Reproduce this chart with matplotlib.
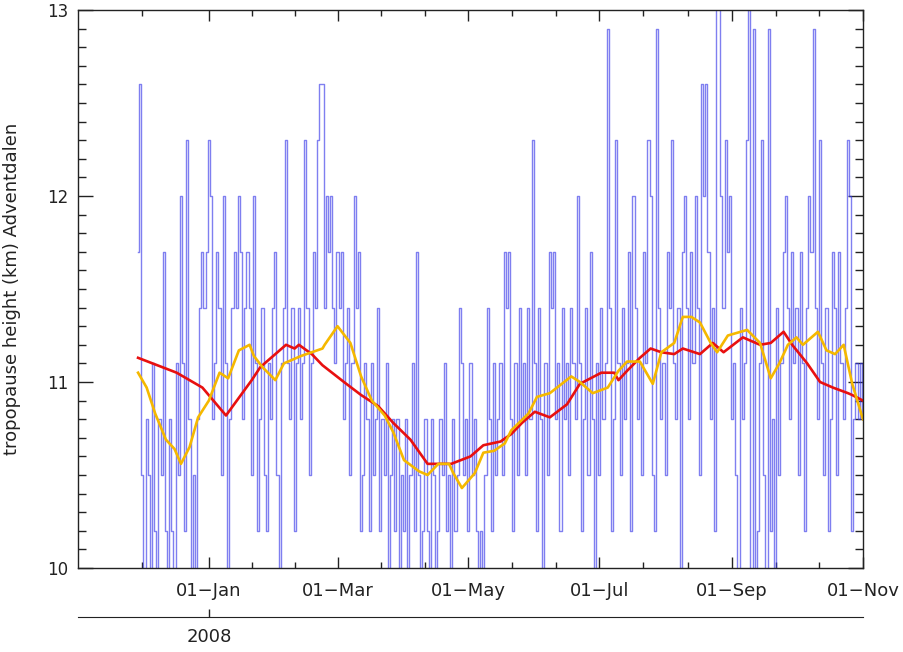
import numpy as np
import matplotlib
matplotlib.use('Agg')
import matplotlib.pyplot as plt
import matplotlib.dates as mdates

# daily tropopause height (km) over Adventdalen, starting 2007-11-29
blue_start = '2007-11-29'
blue_vals = [
    11.7, 12.6, 10.5, 9.9, 10.8, 10.5, 9.9, 11.1, 10.2, 9.6, 10.8, 10.5, 11.7, 10.2, 9.9,
    10.8, 10.2, 9.9, 11.1, 10.5, 12.0, 11.1, 10.2, 12.3, 10.8, 9.9, 10.5, 9.6, 10.8, 11.4,
    11.7, 11.4, 11.7, 12.3, 12.0, 10.8, 11.1, 11.7, 11.4, 10.5, 12.0, 11.1, 9.9, 10.8, 11.4,
    11.7, 11.4, 12.0, 11.7, 10.8, 11.4, 11.7, 11.4, 10.5, 12.0, 11.1, 10.2, 10.8, 11.4, 10.5,
    10.2, 11.1, 10.8, 11.4, 11.7, 10.5, 9.9, 11.1, 11.4, 12.3, 11.1, 10.8, 11.4, 10.2, 11.1,
    11.4, 10.8, 11.1, 12.3, 11.4, 10.5, 11.1, 11.7, 11.4, 12.3, 12.6, 12.6, 11.4, 12.0, 11.7,
    12.0, 11.4, 11.1, 11.7, 11.4, 11.7, 10.8, 11.1, 11.4, 10.5, 11.1, 12.0, 11.4, 11.7, 10.2,
    10.5, 11.1, 10.8, 10.2, 11.1, 10.5, 10.8, 11.4, 10.2, 10.8, 10.5, 11.1, 9.9, 10.5, 10.8,
    10.2, 10.8, 9.9, 10.5, 10.2, 10.8, 9.9, 10.5, 11.1, 10.2, 11.7, 10.5, 9.9, 10.2, 10.8,
    10.2, 9.9, 10.8, 10.5, 9.6, 10.2, 10.8, 10.5, 11.1, 10.2, 10.5, 9.9, 10.8, 10.2, 10.5,
    11.4, 11.1, 10.5, 10.8, 10.2, 11.1, 10.5, 10.8, 10.2, 9.9, 10.2, 9.9, 10.5, 11.4, 10.8,
    10.2, 11.1, 10.5, 10.8, 11.1, 10.5, 11.7, 11.4, 11.7, 10.8, 10.2, 11.1, 10.5, 11.4, 10.8,
    11.1, 10.5, 11.4, 10.8, 12.3, 11.1, 10.2, 11.4, 10.8, 9.9, 11.1, 10.5, 11.7, 11.4, 11.7,
    10.8, 11.1, 10.2, 11.4, 10.8, 11.1, 10.5, 11.4, 11.1, 10.8, 12.0, 11.1, 10.2, 10.8, 11.4,
    10.5, 11.7, 10.8, 9.9, 11.1, 10.5, 11.4, 10.8, 11.1, 12.9, 11.4, 10.2, 10.8, 12.3, 11.1,
    10.5, 11.4, 10.8, 11.1, 11.7, 10.2, 12.0, 11.4, 10.8, 11.1, 10.5, 11.7, 11.1, 12.3, 12.0,
    10.5, 10.2, 12.9, 11.4, 10.8, 11.1, 10.5, 11.7, 11.4, 12.3, 11.1, 10.8, 11.4, 9.9, 11.7,
    12.0, 11.4, 10.8, 11.7, 11.1, 12.0, 11.4, 10.5, 12.6, 12.0, 12.6, 11.7, 10.8, 11.4, 10.2,
    13.2, 13.2, 12.0, 11.4, 12.3, 11.7, 12.0, 10.8, 11.1, 10.5, 9.9, 11.4, 10.8, 11.1, 12.3,
    13.2, 9.9, 12.9, 9.6, 10.2, 11.1, 12.3, 10.5, 9.9, 12.9, 10.2, 10.8, 9.9, 11.4, 10.5,
    11.1, 11.7, 12.0, 11.4, 10.8, 11.7, 11.1, 11.4, 10.5, 11.7, 11.1, 10.2, 11.4, 12.0, 11.7,
    12.9, 11.4, 10.8, 12.3, 11.1, 10.5, 11.4, 10.2, 10.8, 11.7, 11.4, 10.5, 11.7, 11.1, 10.8,
    11.4, 12.3, 12.0, 10.2, 10.8, 11.1, 10.8, 11.1, 10.8,
]

# long running mean (red), days from 2008-01-01
red_days = [-33, -15, -3, 8, 20, 24, 36, 40, 42, 48, 53, 63, 71, 79, 86, 94, 102, 113,
            122, 128, 136, 141, 146, 152, 159, 167, 173, 183, 189, 191, 195, 201, 206,
            211, 217, 221, 229, 235, 240, 249, 257, 262, 268, 272, 279, 285, 291, 298,
            300, 305]
red_vals = [11.13, 11.05, 10.97, 10.82, 11.01, 11.08, 11.20, 11.18, 11.20, 11.15, 11.09,
            11.00, 10.93, 10.87, 10.78, 10.69, 10.56, 10.56, 10.60, 10.66, 10.68, 10.72,
            10.78, 10.84, 10.81, 10.88, 10.99, 11.05, 11.05, 11.01, 11.06, 11.13, 11.18,
            11.16, 11.15, 11.18, 11.15, 11.21, 11.16, 11.24, 11.20, 11.21, 11.27, 11.20,
            11.10, 11.00, 10.97, 10.94, 10.93, 10.90]

# short running mean (orange), days from 2008-01-01
orange_days = [-33, -29, -25, -20, -16, -13, -9, -5, 0, 5, 9, 14, 19, 21, 25, 31, 35, 43,
               53, 54, 60, 66, 71, 76, 82, 86, 91, 98, 102, 107, 112, 114, 118, 124, 128,
               133, 138, 141, 149, 153, 159, 169, 173, 179, 186, 191, 195, 201, 207, 211,
               217, 221, 225, 229, 234, 237, 242, 251, 257, 262, 266, 270, 274, 277, 284,
               288, 292, 296, 300, 305]
orange_vals = [11.05, 10.97, 10.83, 10.69, 10.64, 10.56, 10.65, 10.81, 10.90, 11.05, 11.02,
               11.17, 11.20, 11.14, 11.08, 11.01, 11.10, 11.14, 11.18, 11.20, 11.30, 11.21,
               11.03, 10.90, 10.82, 10.73, 10.58, 10.52, 10.50, 10.56, 10.56, 10.51, 10.43,
               10.51, 10.62, 10.63, 10.67, 10.74, 10.83, 10.92, 10.94, 11.03, 11.00, 10.94,
               10.97, 11.06, 11.11, 11.11, 10.99, 11.16, 11.21, 11.35, 11.35, 11.32, 11.21,
               11.16, 11.25, 11.28, 11.21, 11.02, 11.10, 11.20, 11.24, 11.20, 11.27, 11.17,
               11.15, 11.20, 10.99, 10.80]

major_dates = ['2008-01-01', '2008-03-01', '2008-05-01', '2008-07-01', '2008-09-01', '2008-11-01']
major_labels = ['01\u2212Jan', '01\u2212Mar', '01\u2212May', '01\u2212Jul', '01\u2212Sep', '01\u2212Nov']

base = np.datetime64('2008-01-01')
blue_x = np.datetime64(blue_start) + np.arange(len(blue_vals)).astype('timedelta64[D]')
red_x = base + np.array(red_days).astype('timedelta64[D]')
orange_x = base + np.array(orange_days).astype('timedelta64[D]')

txt = '#222222'
plt.rcParams['font.family'] = 'DejaVu Sans'

fig = plt.figure(figsize=(9.04, 6.52), dpi=100)
ax = fig.add_axes([0.0863, 0.1288, 0.8683, 0.8559])

ax.step(blue_x, blue_vals, where='mid', color='#3a3ae8', lw=1.0, alpha=0.65)
ax.plot(red_x, red_vals, color='#e81010', lw=1.9)
ax.plot(orange_x, orange_vals, color='#f5b800', lw=1.9)

ax.set_xlim(np.datetime64('2007-11-01'), np.datetime64('2008-11-01'))
ax.set_ylim(10, 13)

# x ticks: labelled every two months, minor thirds in between (IDL style)
major_num = mdates.date2num(np.array(major_dates, dtype='datetime64[D]'))
minor_num = [mdates.date2num(np.datetime64('2007-12-01'))]
for a, b in zip(major_num[:-1], major_num[1:]):
    minor_num += [a + (b - a) / 3, a + 2 * (b - a) / 3]
ax.set_xticks(major_num)
ax.set_xticklabels(major_labels)
ax.set_xticks(minor_num, minor=True)

ax.set_yticks([10, 11, 12, 13])
ax.set_yticks(np.arange(10, 13.01, 0.1), minor=True)
ax.set_yticklabels(['10', '11', '12', '13'])

ax.tick_params(axis='x', which='both', direction='in', top=True, colors=txt, labelsize=13, pad=10)
ax.tick_params(axis='x', which='major', length=8, width=1)
ax.tick_params(axis='x', which='minor', length=4, width=1)
ax.tick_params(axis='y', which='both', direction='in', right=True, colors=txt, labelsize=12, pad=7)
ax.tick_params(axis='y', which='major', length=11, width=1)
ax.tick_params(axis='y', which='minor', length=6, width=1)
for s in ax.spines.values():
    s.set_color(txt)
    s.set_linewidth(1)

ax.set_ylabel('tropopause height (km) Adventdalen', fontsize=13, color=txt)
ax.yaxis.set_label_coords(-0.072, 0.5)

# year axis underneath
sec = ax.secondary_xaxis(-0.088)
sec.set_xticks([mdates.date2num(base)])
sec.set_xticklabels(['2008'])
sec.tick_params(direction='in', length=6, width=1, colors=txt, labelsize=13, pad=8)
sec.spines['bottom'].set_color(txt)

fig.savefig('out.png', dpi=100)
